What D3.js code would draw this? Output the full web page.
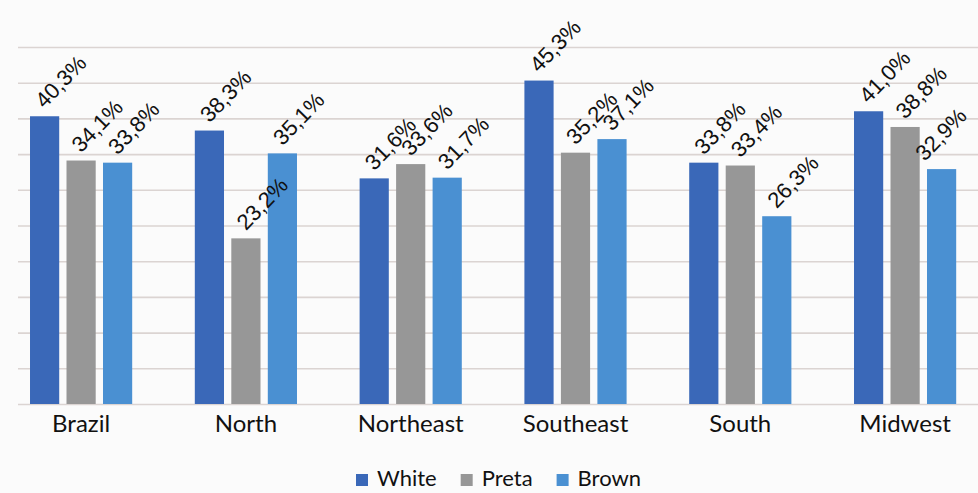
<!DOCTYPE html>
<html>
<head>
<meta charset="utf-8">
<script src="https://cdn.jsdelivr.net/npm/d3@7"></script>
<style>
  html, body { margin: 0; padding: 0; background: #fbfbfb; }
  svg { display: block; }
</style>
</head>
<body>
<svg id="chart" width="978" height="493"></svg>
<script>
// Regions and population groups
const regions = ["Brazil", "North", "Northeast", "Southeast", "South", "Midwest"];
const groups = ["White", "Preta", "Brown"];

// Percentages per group, in region order
const whiteValues = [40.3, 38.3, 31.6, 45.3, 33.8, 41.0];
const pretaValues = [34.1, 23.2, 33.6, 35.2, 33.4, 38.8];
const brownValues = [33.8, 35.1, 31.7, 37.1, 26.3, 32.9];

// Gridline values (percent)
const gridTicks = [0, 5, 10, 15, 20, 25, 30, 35, 40, 45, 50];

const colors = { White: "#3a68b8", Preta: "#979797", Brown: "#4a90d2" };

const seriesValues = { White: whiteValues, Preta: pretaValues, Brown: brownValues };
const rows = regions.map((r, i) => ({
  region: r,
  values: groups.map(g => ({ group: g, value: seriesValues[g][i] }))
}));

const svg = d3.select("#chart");
const W = 978, H = 493;
const plot = { left: 18, right: 978, top: 47, bottom: 404 };
const labelAngle = -46;

const y = d3.scaleLinear().domain([0, 50]).range([plot.bottom, plot.top]);

const x0 = d3.scaleBand()
  .domain(regions)
  .range([-1.3, 987.5])
  .paddingInner(0.38)
  .paddingOuter(0.19);

const x1 = d3.scaleBand()
  .domain(groups)
  .range([0, x0.bandwidth()])
  .paddingInner(0.2)
  .paddingOuter(0);

// Horizontal gridlines
const yAxis = d3.axisLeft(y).tickValues(gridTicks)
  .tickSize(-(plot.right - plot.left)).tickFormat("");
svg.append("g")
  .attr("transform", `translate(${plot.left},0)`)
  .call(yAxis)
  .call(g => g.select(".domain").remove())
  .call(g => g.selectAll(".tick line")
    .attr("stroke", "#dbd4d2")
    .attr("stroke-width", 1.6));

// Bars
const regionG = svg.append("g").selectAll("g")
  .data(rows)
  .join("g")
  .attr("transform", d => `translate(${x0(d.region)},0)`);

regionG.selectAll("rect")
  .data(d => d.values)
  .join("rect")
  .attr("x", d => x1(d.group))
  .attr("y", d => y(d.value))
  .attr("width", x1.bandwidth())
  .attr("height", d => y(0) - y(d.value))
  .attr("fill", d => colors[d.group]);

// Rotated value labels, nudged left when they would run past the right edge
const fmt = v => v.toFixed(1).replace(".", ",") + "%";
const rad = labelAngle * Math.PI / 180;
regionG.each(function (row) {
  const gx = x0(row.region);
  d3.select(this).selectAll("text.val")
    .data(row.values)
    .join("text")
    .attr("class", "val")
    .attr("font-family", "'Liberation Sans', Arial, sans-serif")
    .attr("font-size", 22)
    .attr("fill", "#111")
    .text(d => fmt(d.value))
    .attr("transform", function (d) {
      let cx = x1(d.group) + x1.bandwidth() / 2;
      const len = this.getComputedTextLength();
      const reach = gx + cx + len * Math.cos(rad) + 4;
      if (reach > W - 6) cx -= reach - (W - 6);
      return `translate(${cx},${y(d.value) - 7}) rotate(${labelAngle})`;
    });
});

// Category labels
const xAxis = d3.axisBottom(x0).tickSize(0).tickPadding(0);
svg.append("g")
  .attr("transform", `translate(0,${plot.bottom})`)
  .call(xAxis)
  .call(g => g.select(".domain").remove())
  .call(g => g.selectAll(".tick text")
    .attr("y", 28)
    .attr("dy", 0)
    .attr("font-family", "Lato, 'Open Sans', sans-serif")
    .attr("font-size", 24)
    .attr("fill", "#111"));

// Legend
const legend = svg.append("g").attr("transform", "translate(356,474)");
let lx = 0;
groups.forEach(g => {
  const item = legend.append("g").attr("transform", `translate(${lx},0)`);
  item.append("rect").attr("width", 12).attr("height", 12).attr("fill", colors[g]);
  const t = item.append("text")
    .attr("x", 21).attr("y", 12)
    .attr("font-family", "Lato, 'Open Sans', sans-serif")
    .attr("font-size", 22)
    .attr("fill", "#111")
    .text(g);
  lx += 21 + t.node().getComputedTextLength() + 24;
});
</script>
</body>
</html>
